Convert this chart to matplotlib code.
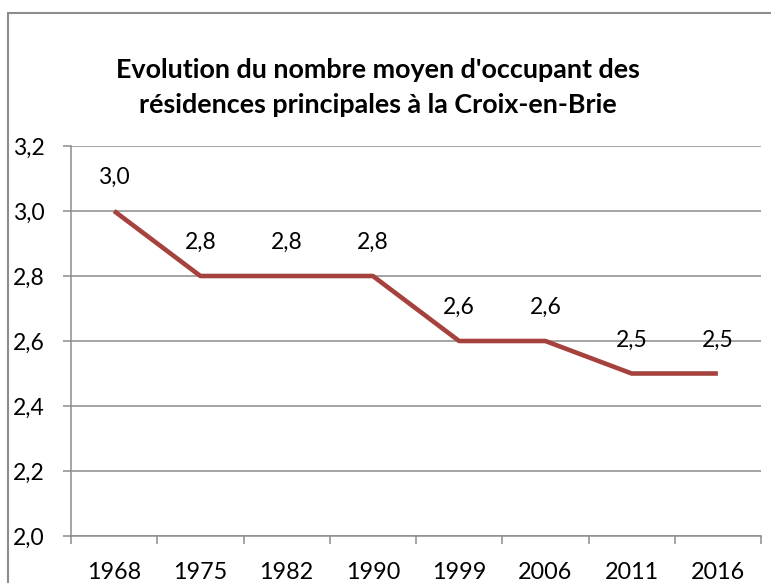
import matplotlib.pyplot as plt
from matplotlib.patches import Rectangle
from matplotlib.ticker import FixedLocator, FuncFormatter

annees = ['1968', '1975', '1982', '1990', '1999', '2006', '2011', '2016']
occupants = [3.0, 2.8, 2.8, 2.8, 2.6, 2.6, 2.5, 2.5]

plt.rcParams['font.family'] = ['Lato', 'DejaVu Sans']

W, H = 771, 583
fig = plt.figure(figsize=(W / 100, H / 100), dpi=100, facecolor='white')

# cadre du graphique (coupé à droite et en bas)
fig.patches.append(Rectangle((8 / W, -0.1), 1.2, (H - 13) / H + 0.1,
                             transform=fig.transFigure, fill=False,
                             edgecolor='#8c8c8c', linewidth=1.5))

ax = fig.add_axes([71 / W, (H - 536) / H, (761 - 71) / W, (536 - 146) / H])

x = list(range(len(annees)))
ax.plot(x, occupants, color='#a5423d', linewidth=3.3, solid_capstyle='butt')

for xi, v in zip(x, occupants):
    ax.annotate(f'{v:.1f}'.replace('.', ','), (xi, v), xytext=(0, 24),
                textcoords='offset points', ha='center', va='center',
                fontsize=16.5, color='black')

ax.set_xlim(-0.5, len(annees) - 0.5)
ax.set_ylim(2.0, 3.2)
ax.set_yticks([2.0, 2.2, 2.4, 2.6, 2.8, 3.0, 3.2])
ax.yaxis.set_major_formatter(FuncFormatter(lambda v, p: f'{v:.1f}'.replace('.', ',')))
ax.set_xticks(x)
ax.set_xticklabels(annees)
ax.xaxis.set_minor_locator(FixedLocator([i - 0.5 for i in range(len(annees) + 1)]))

ax.grid(axis='y', color='#8c8c8c', linewidth=1.1)
ax.set_axisbelow(True)
for s in ['top', 'right']:
    ax.spines[s].set_visible(False)
for s in ['left', 'bottom']:
    ax.spines[s].set_color('#8c8c8c')
    ax.spines[s].set_linewidth(1.1)

ax.tick_params(axis='y', length=5.8, width=1.1, color='#8c8c8c', pad=13,
               labelsize=16.5, labelcolor='black')
ax.tick_params(axis='x', which='major', length=0, pad=18.5,
               labelsize=16.8, labelcolor='black')
ax.tick_params(axis='x', which='minor', length=5.8, width=1.1, color='#8c8c8c')

# titre sur deux lignes, ligne de base de la seconde ligne
fig.text(378 / W, (H - 113) / H,
         "Evolution du nombre moyen d'occupant des\nrésidences principales à la Croix-en-Brie",
         ha='center', va='baseline', fontsize=19.4, fontweight='bold',
         linespacing=1.55, multialignment='center')

fig.savefig('out.png', dpi=100)
